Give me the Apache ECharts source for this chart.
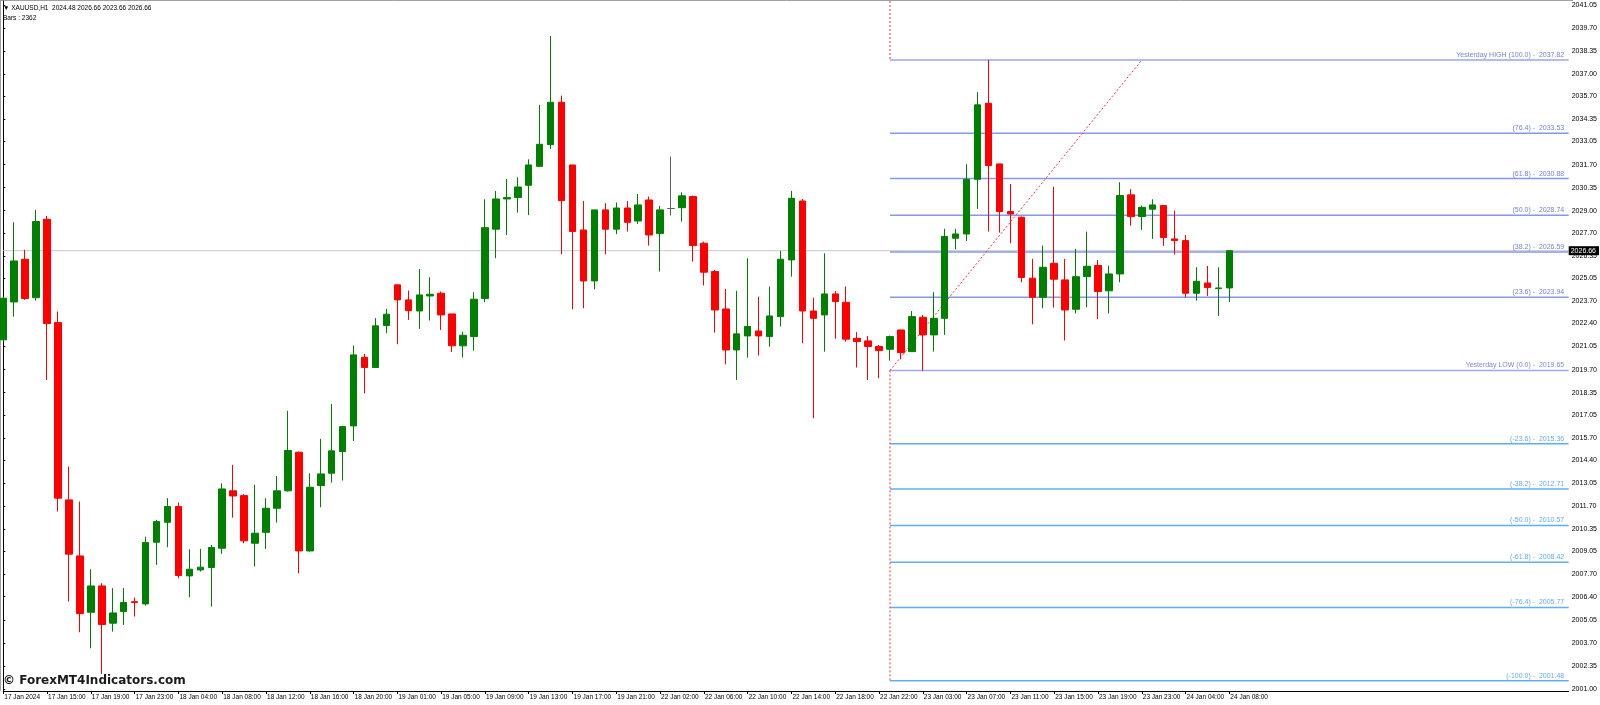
<!DOCTYPE html>
<html><head><meta charset="utf-8">
<script src="https://cdn.jsdelivr.net/npm/echarts@6/dist/echarts.min.js"></script>
<style>html,body{margin:0;padding:0;background:#fff}#c{width:1600px;height:705px}</style>
</head><body><div id="c"></div>
<script>
// ---- data (XAUUSD H1, bars 17 Jan 11:00 .. 24 Jan 08:00) ----
const opens = [2021.44,2023.66,2026.16,2023.91,2028.50,2022.45,2012.07,2008.79,2005.49,2007.03,
2004.85,2005.53,2006.11,2005.98,2009.59,2010.76,2011.68,2007.62,2007.97,2008.11,
2009.24,2012.60,2012.32,2009.53,2010.17,2011.58,2012.60,2014.86,2009.08,2012.91,
2013.63,2014.90,2016.40,2020.42,2019.82,2022.28,2024.66,2023.78,2023.13,2024.01,
2024.17,2022.96,2021.09,2021.63,2023.86,2027.92,2029.69,2029.77,2030.49,2031.60,
2032.87,2035.35,2031.68,2027.87,2024.89,2029.05,2027.92,2029.16,2028.40,2029.63,
2027.66,2029.13,2029.18,2029.83,2027.10,2025.44,2023.25,2020.85,2021.67,2021.96,
2021.63,2022.80,2026.12,2029.57,2023.13,2022.90,2024.13,2023.64,2021.53,2021.38,
2021.05,2020.89,2022.02,2020.75,2022.76,2021.73,2022.70,2027.39,2027.64,2030.84,
2035.29,2031.74,2028.95,2028.62,2025.05,2023.93,2025.92,2024.95,2023.23,2025.14,
2025.79,2024.31,2025.30,2029.93,2028.66,2029.09,2029.30,2027.35,2027.25,2024.17,
2024.77,2024.44,2024.48];
const highs = [2023.97,2028.33,2026.71,2029.05,2028.70,2023.10,2014.02,2011.97,2008.01,2007.19,
2006.90,2006.90,2006.35,2009.92,2010.90,2012.17,2011.91,2009.18,2009.20,2009.43,
2013.04,2014.12,2012.40,2012.95,2012.17,2013.47,2017.28,2014.90,2013.63,2015.64,
2017.69,2016.40,2021.11,2020.62,2022.71,2023.25,2024.66,2024.33,2025.59,2025.10,
2024.27,2022.96,2021.92,2024.23,2029.67,2030.16,2030.86,2030.96,2032.01,2035.19,
2039.23,2035.74,2031.68,2029.57,2029.05,2029.44,2029.48,2029.57,2029.98,2029.83,
2029.28,2032.17,2030.08,2029.89,2027.19,2025.53,2024.42,2024.31,2026.22,2023.97,
2024.56,2026.65,2030.16,2029.69,2023.91,2026.51,2024.30,2024.56,2021.89,2021.67,
2021.14,2021.69,2022.02,2023.13,2022.90,2024.23,2027.94,2027.94,2031.72,2035.94,
2037.82,2031.74,2030.57,2028.66,2026.18,2026.96,2030.41,2026.18,2026.77,2027.78,
2026.12,2025.79,2030.67,2030.26,2029.30,2029.67,2029.34,2029.01,2027.58,2025.69,
2025.77,2025.69,2026.66];
const lows = [2021.34,2022.80,2023.78,2023.74,2019.09,2011.39,2006.12,2004.32,2003.38,2001.88,
2004.36,2004.75,2005.24,2005.88,2008.26,2009.30,2007.48,2006.37,2007.87,2005.82,
2008.91,2011.03,2009.53,2008.17,2009.20,2010.74,2012.56,2007.77,2009.04,2011.64,
2013.08,2013.20,2015.52,2018.31,2019.82,2021.83,2021.18,2022.61,2022.08,2022.57,
2022.02,2020.73,2020.40,2020.81,2023.64,2026.22,2027.58,2028.89,2028.75,2031.60,
2032.62,2026.45,2023.23,2023.29,2024.40,2026.45,2027.63,2027.78,2028.23,2026.96,
2025.44,2028.72,2028.36,2026.02,2024.62,2021.87,2020.01,2019.09,2020.40,2020.52,
2021.04,2022.22,2025.14,2021.24,2016.85,2020.75,2021.50,2021.34,2019.82,2019.09,
2019.19,2020.23,2020.30,2020.75,2019.62,2020.75,2021.73,2026.74,2027.23,2029.11,
2027.78,2027.72,2027.10,2024.81,2022.35,2023.29,2023.33,2021.40,2022.99,2023.35,
2022.65,2022.99,2024.81,2028.13,2027.88,2027.35,2026.94,2026.43,2023.93,2023.74,
2024.01,2022.84,2023.66];
const closes = [2023.88,2026.06,2023.86,2028.37,2022.39,2012.17,2008.89,2005.41,2007.03,2004.77,
2005.45,2006.06,2006.06,2009.57,2010.80,2011.68,2007.64,2008.01,2008.13,2009.28,
2012.71,2012.30,2009.67,2010.12,2011.58,2012.60,2014.96,2009.08,2012.81,2013.59,
2014.94,2016.36,2020.56,2019.82,2022.26,2022.94,2023.78,2023.15,2024.07,2024.11,
2022.90,2021.09,2021.71,2023.82,2028.01,2029.69,2029.77,2030.39,2031.68,2032.89,
2035.35,2029.59,2027.78,2024.89,2029.05,2027.92,2029.16,2028.32,2029.34,2027.58,
2029.05,2029.13,2029.87,2026.96,2025.40,2023.19,2020.85,2021.79,2022.22,2021.67,
2022.84,2026.16,2029.73,2023.13,2022.70,2024.13,2023.68,2021.48,2021.34,2021.05,
2020.81,2021.63,2020.69,2022.80,2021.73,2022.70,2027.49,2027.64,2030.84,2035.20,
2031.64,2028.95,2028.81,2025.09,2023.93,2025.69,2024.99,2023.19,2025.14,2025.75,
2024.27,2025.30,2029.89,2028.66,2029.20,2029.34,2027.43,2027.25,2024.17,2024.87,
2024.50,2024.48,2026.66];
const timeLabels = ['17 Jan 2024','17 Jan 15:00','17 Jan 19:00','17 Jan 23:00','18 Jan 04:00','18 Jan 08:00',
'18 Jan 12:00','18 Jan 16:00','18 Jan 20:00','19 Jan 01:00','19 Jan 05:00','19 Jan 09:00','19 Jan 13:00',
'19 Jan 17:00','19 Jan 21:00','22 Jan 02:00','22 Jan 06:00','22 Jan 10:00','22 Jan 14:00','22 Jan 18:00',
'22 Jan 22:00','23 Jan 03:00','23 Jan 07:00','23 Jan 11:00','23 Jan 15:00','23 Jan 19:00','23 Jan 23:00',
'24 Jan 04:00','24 Jan 08:00'];
const priceTicks = [2041.05,2039.70,2038.35,2037.00,2035.70,2034.35,2033.05,2031.70,2030.35,2029.00,
2027.70,2026.35,2025.05,2023.70,2022.40,2021.05,2019.70,2018.35,2017.05,2015.70,2014.40,2013.05,
2011.70,2010.35,2009.05,2007.70,2006.40,2005.05,2003.70,2002.35,2001.00];
const fibNames = ['Yesterday HIGH (100.0)','(76.4)','(61.8)','(50.0)','(38.2)','(23.6)','Yesterday LOW (0.0)',
'(-23.6)','(-38.2)','(-50.0)','(-61.8)','(-76.4)','(-100.0)'];
const fibLevels = [2037.82,2033.53,2030.88,2028.74,2026.59,2023.94,2019.65,2015.36,2012.71,2010.57,2008.42,2005.77,2001.48];
const fibStartBar = 81, fibTrendEndBar = 104;
const symbolName = 'XAUUSD,H1', barsCount = 2362, bidPrice = 2026.66;
// -------------------------------------------------------------

const SLOTS = 144;             // bars + right chart shift
const yMin = 2000.88, yMax = 2041.28;
const last = opens.length - 1;
const cats = Array.from({length: SLOTS}, (_, i) => String(i));
const isLabelIdx = i => i % 4 === 0 && i / 4 < timeLabels.length;

const candleData = opens.map((o, i) => [o, closes[i], lows[i], highs[i]]);

function fibGroup(i) { return i < 6 ? 'pos' : (i === 6 ? 'low' : 'neg'); }
const lineCol = {pos: '#8599e8', low: '#a0a9ee', neg: '#5eaeff'};
const lineCol0 = '#98a6ee';
const textCol = {pos: '#4f64d2', low: '#5f69d6', neg: '#3a96f2'};

const series = [];
series.push({
  type: 'line', xAxisIndex: 1, z: 1, silent: true, symbol: 'none',
  data: [[0, bidPrice], [SLOTS - 1, bidPrice]],
  lineStyle: {color: '#c8c8c8', width: 1},
  endLabel: {show: true, formatter: bidPrice.toFixed(2), backgroundColor: '#000', color: '#fff',
    fontSize: 7, fontFamily: 'Liberation Sans', padding: [1, 3, 1, 2], distance: 0}
});
fibLevels.forEach((lv, i) => {
  const g = fibGroup(i);
  series.push({
    type: 'line', xAxisIndex: 1, z: 3, silent: true, symbol: 'none',
    data: [[fibStartBar, lv], [SLOTS - 1, lv]],
    lineStyle: {color: i === 0 ? lineCol0 : lineCol[g], width: 1.5}
  });
});
series.push({
  type: 'scatter', xAxisIndex: 1, z: 6, silent: true, symbolSize: 1,
  itemStyle: {color: 'rgba(0,0,0,0)'},
  data: fibLevels.map((lv, i) => ({value: [SLOTS - 1, lv],
    label: {color: textCol[fibGroup(i)]}})),
  label: {show: true, position: 'left', distance: 4, offset: [0, -5], fontSize: 7,
    fontFamily: 'Liberation Sans',
    formatter: p => fibNames[p.dataIndex] + ' -  ' + fibLevels[p.dataIndex].toFixed(2)}
});
const dotted = {color: '#ff3030', width: 1, type: [2, 2]};
series.push({type: 'line', xAxisIndex: 1, z: 4, silent: true, symbol: 'none', lineStyle: dotted,
  data: [[fibStartBar, fibLevels[6]], [fibTrendEndBar, fibLevels[0]]]});
series.push({type: 'line', xAxisIndex: 1, z: 4, silent: true, symbol: 'none', lineStyle: dotted,
  data: [[fibStartBar, yMax], [fibStartBar, fibLevels[0]]]});
series.push({type: 'line', xAxisIndex: 1, z: 4, silent: true, symbol: 'none', lineStyle: dotted,
  data: [[fibStartBar, fibLevels[6]], [fibStartBar, fibLevels[12]]]});
series.push({
  type: 'candlestick', xAxisIndex: 0, z: 5, barWidth: 7,
  data: candleData,
  itemStyle: {color: '#008000', color0: '#ff0000', borderColor: '#008000', borderColor0: '#ff0000',
    borderColorDoji: '#606060', borderWidth: 1}
});

const chart = echarts.init(document.getElementById('c'), null, {renderer: 'canvas'});
chart.setOption({
  animation: false,
  backgroundColor: '#fff',
  title: [
    {text: '\u25BC ' + symbolName + '  ' + [opens[last], highs[last], lows[last], closes[last]].map(v => v.toFixed(2)).join(' ')
       + '\nBars : ' + barsCount,
     left: 3, top: 3, padding: 0,
     textStyle: {fontSize: 6.5, fontWeight: 'normal', color: '#000', fontFamily: 'Liberation Sans', lineHeight: 10}},
    {text: '\u00A9 ForexMT4Indicators.com', left: 3, top: 675, padding: 0,
     textStyle: {fontSize: 12, fontWeight: 'bold', color: '#1a1a1a', fontFamily: 'DejaVu Sans'}}
  ],
  grid: {left: 3.3, right: 26.7, top: 1, bottom: 14, containLabel: false},
  xAxis: [
    {type: 'category', data: cats, boundaryGap: false,
     axisLine: {lineStyle: {color: '#000', width: 1}},
     axisTick: {interval: (i) => isLabelIdx(i), length: 3, lineStyle: {color: '#000'}},
     axisLabel: {interval: (i) => isLabelIdx(i), formatter: (v, i) => isLabelIdx(Number(v)) ? timeLabels[Number(v) / 4] : '',
       align: 'left', fontSize: 6.5, color: '#000', margin: 3, padding: [0, 0, 0, 1], fontFamily: 'Liberation Sans', hideOverlap: false},
     splitLine: {show: false}},
    {type: 'value', min: 0, max: SLOTS - 1, show: false}
  ],
  yAxis: {type: 'value', position: 'right', min: yMin, max: yMax, scale: true,
    axisLine: {show: true, lineStyle: {color: '#000', width: 1}},
    axisTick: {show: true, customValues: priceTicks, length: 2, lineStyle: {color: '#000'}},
    axisLabel: {customValues: priceTicks, formatter: v => Number(v).toFixed(2), fontSize: 7, color: '#000',
      margin: 3, fontFamily: 'Liberation Sans'},
    splitLine: {show: false}},
  graphic: [
    {type: 'line', silent: true, shape: {x1: 0, y1: 0.5, x2: 1573, y2: 0.5}, style: {stroke: '#a0a0a0', lineWidth: 1}},
    {type: 'line', silent: true, shape: {x1: 0.5, y1: 0, x2: 0.5, y2: 691}, style: {stroke: '#a0a0a0', lineWidth: 1}}
  ],
  series: series
});
</script></body></html>
